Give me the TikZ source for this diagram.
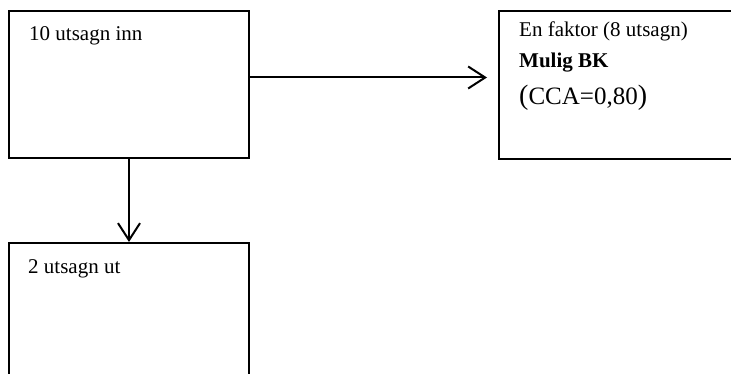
\documentclass[tikz,border=0pt]{standalone}
\usepackage{fontspec}
\setmainfont{Liberation Serif}
\usetikzlibrary{arrows.meta}

\tikzset{
  boks/.style={draw, line width=2pt, anchor=north west, inner sep=0pt,
    minimum width=240pt, minimum height=147pt},
  tekst/.style={anchor=base west, inner sep=0pt, font=\fontsize{21}{25}\selectfont},
  pil/.style={-{Straight Barb[length=17pt,width=22pt]}, line width=2pt},
}

\begin{document}
\begin{tikzpicture}

  \useasboundingbox (0pt,0pt) rectangle (731pt,-374pt);
  \clip (0pt,0pt) rectangle (731pt,-374pt);

  % boxes
  \node[boks] (inn) at (8pt,-10pt) {};
  \node[boks, minimum width=252pt, minimum height=148pt] (faktor) at (498pt,-10pt) {};
  \node[boks, minimum height=150pt] (ut) at (8pt,-242pt) {};

  % texts
  \node[tekst] (inntxt) at ([xshift=21pt,yshift=-31pt]inn.north west) {10 utsagn inn};
  \node[tekst] (faktortxt) at ([xshift=21pt,yshift=-27pt]faktor.north west) {En faktor (8 utsagn)};
  \node[tekst, font=\fontsize{21}{25}\selectfont\bfseries] (bktxt)
    at ([yshift=-31pt]faktortxt.base west) {Mulig BK};
  \node[tekst, font=\fontsize{25}{30}\selectfont] (ccatxt)
    at ([yshift=-37pt]bktxt.base west) {{\fontsize{28}{30}\selectfont(}CCA=0,80{\fontsize{28}{30}\selectfont)}};
  \node[tekst] (uttxt) at ([xshift=20pt,yshift=-31pt]ut.north west) {2 utsagn ut};

  % arrows
  \draw[pil, shorten >=11pt] ([yshift=7pt]inn.east) -- ([yshift=7pt]inn.east -| faktor.west);
  \draw[pil] (inn.south) -- (ut.north);

\end{tikzpicture}
\end{document}
